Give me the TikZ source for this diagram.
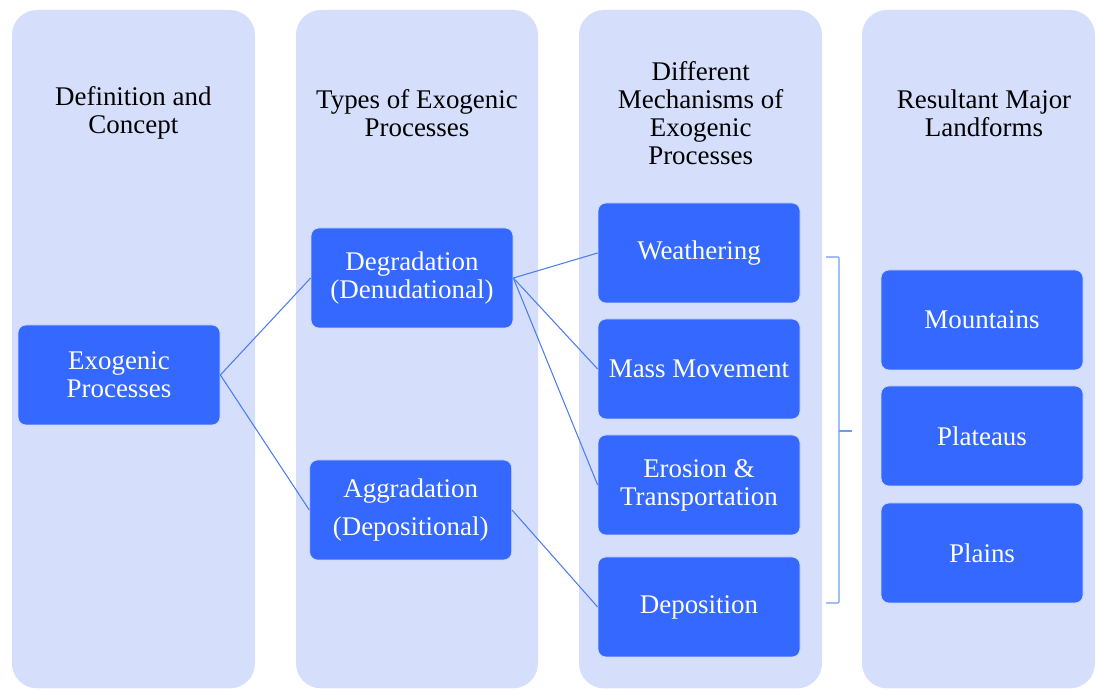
\documentclass[tikz,border=0pt]{standalone}
\usepackage{fontspec}
\setmainfont{Liberation Serif}
\definecolor{colbg}{HTML}{D5DFFB}
\definecolor{boxblue}{HTML}{3468FE}
\definecolor{linkblue}{HTML}{4C7CF0}
\definecolor{bracketblue}{HTML}{6C9BF6}
\tikzset{
	column/.style={fill=colbg, rounded corners=0.75cm},
	header/.style={align=center, text=black, font=\fontsize{23}{24}\selectfont},
	stage/.style={draw=white!75!boxblue, line width=0.6pt, fill=boxblue, rounded corners=0.24cm,
		minimum width=6.06cm, minimum height=3cm, align=center, text=white,
		font=\fontsize{23}{24}\selectfont},
	link/.style={draw=linkblue, line width=0.9pt}
}
\begin{document}
\begin{tikzpicture}
		\useasboundingbox (0,0) rectangle (32.88,20.7);
		
		% columns
		\fill[column] (0.36,0.05) rectangle (7.65,20.4);
		\fill[column] (8.88,0.05) rectangle (16.14,20.4);
		\fill[column] (17.37,0.05) rectangle (24.66,20.4);
		\fill[column] (25.86,0.05) rectangle (32.85,20.4);
		
		\node[header] (h1) at (4.0,17.31) {Definition and\\Concept};
		\node[header] (h2) at (12.51,17.31) {Types of Exogenic\\Processes};
		\node[header] (h3) at (21.02,17.31) {Different\\Mechanisms of\\Exogenic\\Processes};
		\node[header] (h4) at (29.52,17.31) {Resultant Major\\Landforms};
		
		\node[stage] (exo) at (3.57,9.45) {Exogenic\\Processes};
		
		\node[stage] (deg) at (12.36,12.36) {Degradation\\(Denudational)};
		\node[stage] (agg) at (12.32,5.4) {Aggradation\\[9pt](Depositional)};
		
		\node[stage] (wea) at (20.97,13.11) {Weathering};
		\node[stage] (mass) at (20.97,9.63) {Mass Movement};
		\node[stage] (ero) at (20.97,6.15) {Erosion \&\\Transportation};
		\node[stage] (dep) at (20.97,2.49) {Deposition};
		
		\node[stage] (mou) at (29.46,11.1) {Mountains};
		\node[stage] (pla) at (29.46,7.62) {Plateaus};
		\node[stage] (pln) at (29.46,4.11) {Plains};
		
		\draw[link] (exo.east) -- (deg.west);
		\draw[link] (exo.east) -- (agg.west);
		\draw[link] (deg.east) -- (wea.west);
		\draw[link] (deg.east) -- (mass.west);
		\draw[link] (deg.east) -- (ero.west);
		\draw[link] (agg.east) -- (dep.west);
		
		% bracket
		\draw[bracketblue, line width=0.9pt, rounded corners=1pt] (24.78,12.99) -- (25.17,12.99) -- (25.17,2.61) -- (24.78,2.61);
		\draw[bracketblue, line width=0.9pt] (25.17,7.77) -- (25.56,7.77);

	\end{tikzpicture}
\end{document}
